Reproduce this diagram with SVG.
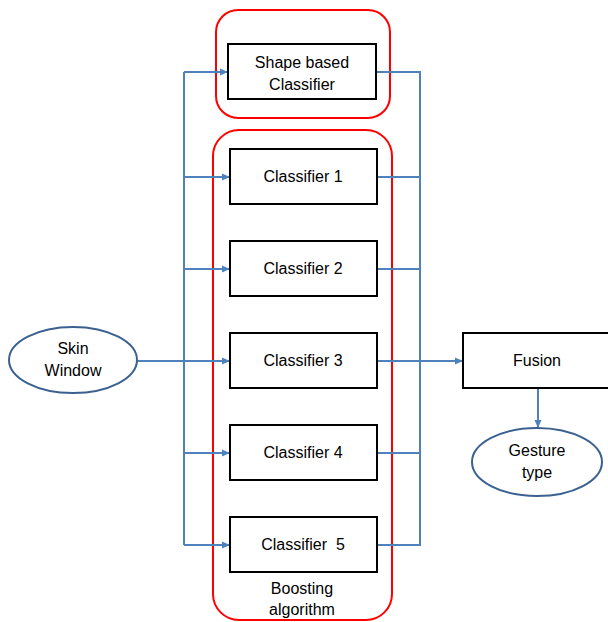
<svg xmlns="http://www.w3.org/2000/svg" width="608" height="622" viewBox="0 0 608 622">
<defs>
<marker id="ah" markerWidth="8" markerHeight="8" refX="7" refY="4" orient="auto" markerUnits="userSpaceOnUse">
<path d="M0,0.5 L8,4 L0,7.5 Z" fill="#4F81BD"/>
</marker>
<style>
.t{font-family:"Liberation Sans",Arial,sans-serif;font-size:16px;fill:#000;text-anchor:middle}
.box{fill:#fff;stroke:#000;stroke-width:2}
.grp{fill:none;stroke:#FF0000;stroke-width:2}
.ell{fill:#fff;stroke:#3A6190;stroke-width:2}
.c{fill:none;stroke:#4F81BD;stroke-width:2}
</style>
</defs>
<rect width="608" height="622" fill="#fff"/>
<g id="group-shape"><rect class="grp" x="216" y="10" width="174" height="108" rx="22"/></g>
<g id="group-boosting"><rect class="grp" x="213" y="130" width="179" height="490" rx="26"/>
<text class="t" x="302" y="594">Boosting</text><text class="t" x="302" y="615">algorithm</text></g>
<g id="connectors">
<line class="c" x1="137" y1="361" x2="184" y2="361" stroke-width="3.5"/>
<line class="c" x1="184" y1="72" x2="184" y2="545"/>
<line class="c" x1="184" y1="72" x2="227" y2="72" marker-end="url(#ah)"/>
<line class="c" x1="184" y1="177" x2="229" y2="177" marker-end="url(#ah)"/>
<line class="c" x1="184" y1="269" x2="229" y2="269" marker-end="url(#ah)"/>
<line class="c" x1="184" y1="361" x2="229" y2="361" marker-end="url(#ah)"/>
<line class="c" x1="184" y1="453" x2="229" y2="453" marker-end="url(#ah)"/>
<line class="c" x1="184" y1="545" x2="229" y2="545" marker-end="url(#ah)"/>
<line class="c" x1="420" y1="72" x2="420" y2="545"/>
<line class="c" x1="376" y1="72" x2="421" y2="72"/>
<line class="c" x1="377" y1="177" x2="421" y2="177"/>
<line class="c" x1="377" y1="269" x2="421" y2="269"/>
<line class="c" x1="377" y1="361" x2="420" y2="361"/>
<line class="c" x1="377" y1="453" x2="421" y2="453"/>
<line class="c" x1="377" y1="545" x2="421" y2="545"/>
<line class="c" x1="420" y1="361" x2="462" y2="361" stroke-width="2.5" marker-end="url(#ah)"/>
<line class="c" x1="538" y1="388" x2="538" y2="427" marker-end="url(#ah)"/>
</g>
<g id="shape-classifier"><rect class="box" x="228" y="44" width="148" height="55"/>
<text class="t" x="302" y="68">Shape based</text><text class="t" x="302" y="90">Classifier</text></g>
<g id="classifier-1"><rect class="box" x="230" y="149" width="147" height="55"/><text class="t" x="303" y="182">Classifier 1</text></g>
<g id="classifier-2"><rect class="box" x="230" y="241" width="147" height="55"/><text class="t" x="303" y="274">Classifier 2</text></g>
<g id="classifier-3"><rect class="box" x="230" y="333" width="147" height="55"/><text class="t" x="303" y="366">Classifier 3</text></g>
<g id="classifier-4"><rect class="box" x="230" y="425" width="147" height="55"/><text class="t" x="303" y="458">Classifier 4</text></g>
<g id="classifier-5"><rect class="box" x="230" y="517" width="147" height="55"/><text class="t" x="303" y="550" xml:space="preserve">Classifier  5</text></g>
<g id="skin-window"><ellipse class="ell" cx="73" cy="360" rx="64" ry="33"/>
<text class="t" x="73" y="354">Skin</text><text class="t" x="73" y="376">Window</text></g>
<g id="fusion"><rect class="box" x="463" y="333" width="150" height="55"/><text class="t" x="537" y="366">Fusion</text></g>
<g id="gesture-type"><ellipse class="ell" cx="537" cy="462" rx="65" ry="34"/>
<text class="t" x="537" y="456">Gesture</text><text class="t" x="537" y="478">type</text></g>
</svg>
